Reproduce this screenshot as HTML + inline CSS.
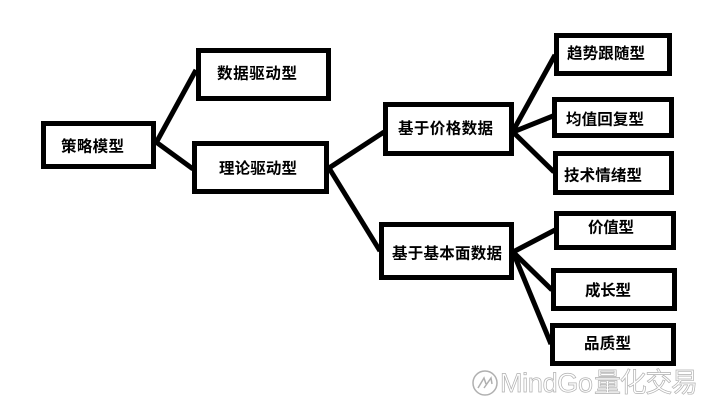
<!DOCTYPE html>
<html>
<head>
<meta charset="utf-8">
<style>
html,body{margin:0;padding:0;background:#fff;width:710px;height:401px;overflow:hidden}
svg{display:block}
.t{font-family:"Liberation Sans","Noto Sans CJK SC",sans-serif;font-size:15.5px;font-weight:700;fill:#000;text-anchor:middle;dominant-baseline:central}
.w{font-family:"Liberation Sans","Noto Sans CJK SC",sans-serif;font-size:27px;font-weight:400;fill:#fff;stroke:#b0b0b0;stroke-width:.7}
</style>
</head>
<body>
<svg width="710" height="401" viewBox="0 0 710 401" xmlns="http://www.w3.org/2000/svg">
<g stroke="#000" stroke-width="5" fill="none">
<path d="M156 143L196 70"/>
<path d="M156 142L193 169"/>
<path d="M329 168L384 132"/>
<path d="M329 168L380 251"/>
<path d="M513 131L555 55"/>
<path d="M513 132L553 116"/>
<path d="M513 132L554 172"/>
<path d="M513 252L555 230"/>
<path d="M513 252L552 290"/>
<path d="M513 252L551 344"/>
</g>
<g stroke="#000" stroke-width="5" fill="#fff">
<rect x="43.500" y="123.500" width="110" height="43"/>
<rect x="198.500" y="50.500" width="130" height="48"/>
<rect x="194.500" y="143.500" width="132" height="48"/>
<rect x="385.500" y="104.500" width="126" height="49"/>
<rect x="556.500" y="35.500" width="113" height="38"/>
<rect x="554.500" y="99.500" width="117" height="36"/>
<rect x="555.500" y="153.500" width="116" height="39"/>
<rect x="381.500" y="224.500" width="130" height="53"/>
<rect x="556.500" y="213.500" width="117" height="34"/>
<rect x="553.500" y="270.500" width="121" height="38"/>
<rect x="552.500" y="325.500" width="121" height="38"/>
</g>
<text class="t" x="92.500" y="147" textLength="63">策略模型</text>
<text class="t" x="257" y="74" textLength="80">数据驱动型</text>
<text class="t" x="258" y="169" textLength="78">理论驱动型</text>
<text class="t" x="445.500" y="129" textLength="95">基于价格数据</text>
<text class="t" x="606" y="54" textLength="78">趋势跟随型</text>
<text class="t" x="605" y="120" textLength="78">均值回复型</text>
<text class="t" x="603" y="176" textLength="78">技术情绪型</text>
<text class="t" x="447" y="254" textLength="110">基于基本面数据</text>
<text class="t" x="611" y="228" textLength="46">价值型</text>
<text class="t" x="608" y="291" textLength="46">成长型</text>
<text class="t" x="607.500" y="344" textLength="47">品质型</text>
<g stroke="#b0b0b0" stroke-width="1.500" fill="none">
<circle cx="485" cy="383" r="12"/>
<path d="M478 388L484 378L486 384M484 388L491 378L492 384"/>
</g>
<text class="w" x="500" y="392" textLength="93">MindGo</text>
<text class="w" x="594" y="392" textLength="104">量化交易</text>
</svg>
</body>
</html>
